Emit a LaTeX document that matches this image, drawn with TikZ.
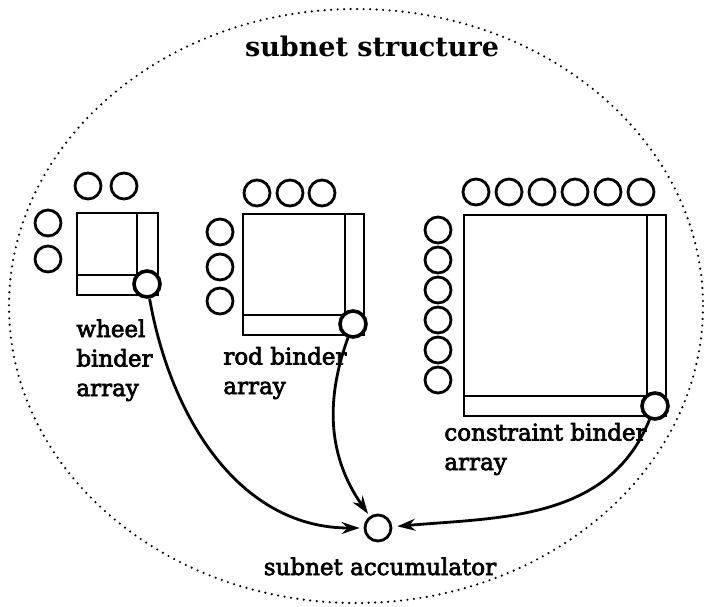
\documentclass[tikz,border=0pt]{standalone}
\usepackage{fontspec}
\setmainfont{DejaVu Serif}
\newfontfamily\lblfont{DejaVu Serif}[FakeBold=3]
\usetikzlibrary{arrows.meta}
\tikzset{>={Stealth[length=18pt,width=12pt,inset=6pt]}}

\begin{document}
\begin{tikzpicture}[x=1pt,y=-1pt,line width=2.8pt]
\useasboundingbox (0,0) rectangle (709,606);
\draw [line width=2.4pt,dash pattern=on 0pt off 6.5pt,line cap=round]
  (356,306) ellipse [x radius=347,y radius=297];
\node [anchor=base] (T) at (372,56) {\fontsize{27}{32}\selectfont\bfseries subnet structure};

% the three binder arrays
\draw (77,213) rectangle (158,295);
\draw (137,213) -- (137,295) (77,275) -- (158,275);
\draw (243,214) rectangle (364,335);
\draw (345,214) -- (345,335) (243,315) -- (364,315);
\draw (464,215) rectangle (666,416);
\draw (647,215) -- (647,416) (464,396) -- (666,396);

\begin{scope}[every node/.style={circle,draw,fill=white,minimum size=26pt,inner sep=0pt}]
\node (W1) at (88,186) {};
\node (W2) at (124,186) {};
\node (W3) at (48,223) {};
\node (W4) at (48,259) {};
\node (R1) at (257,193) {};
\node (R2) at (290,193) {};
\node (R3) at (322,193) {};
\node (R4) at (220,232) {};
\node (R5) at (220,267) {};
\node (R6) at (220,301) {};
\foreach \i in {1,...,6} {
  \node (CT\i) at (476+33*\i-33,192) {};
  \node (CL\i) at (438,230+30*\i-30) {};
}
\node [line width=3.6pt] (WB) at (147,284) {};
\node [line width=3.6pt] (RB) at (353,324) {};
\node [line width=3.6pt] (CB) at (655,406) {};
\node (ACC) at (378,528) {};
\end{scope}

% labels: anchored at the baseline of their last line
\begin{scope}[every node/.style={align=left,inner sep=0pt,anchor=base west,font=\fontsize{23}{29.5}\selectfont\lblfont}]
\node (WL) at (75,396) {wheel\\binder\\array};
\node (RL) at (222,394) {rod binder\\array};
\node (CL) at (443,470) {constraint binder\\array};
\node [anchor=base] (AL) at (380,575) {subnet accumulator};
\end{scope}

\path [->] (WB) edge [out=-80,in=180,shorten >=4pt] (ACC);
\path [->] (RB) edge [out=-110,in=125,shorten >=3pt] (ACC);
\path [->] (CB) edge [out=-112,in=5,shorten >=5pt] (ACC);
\end{tikzpicture}
\end{document}
